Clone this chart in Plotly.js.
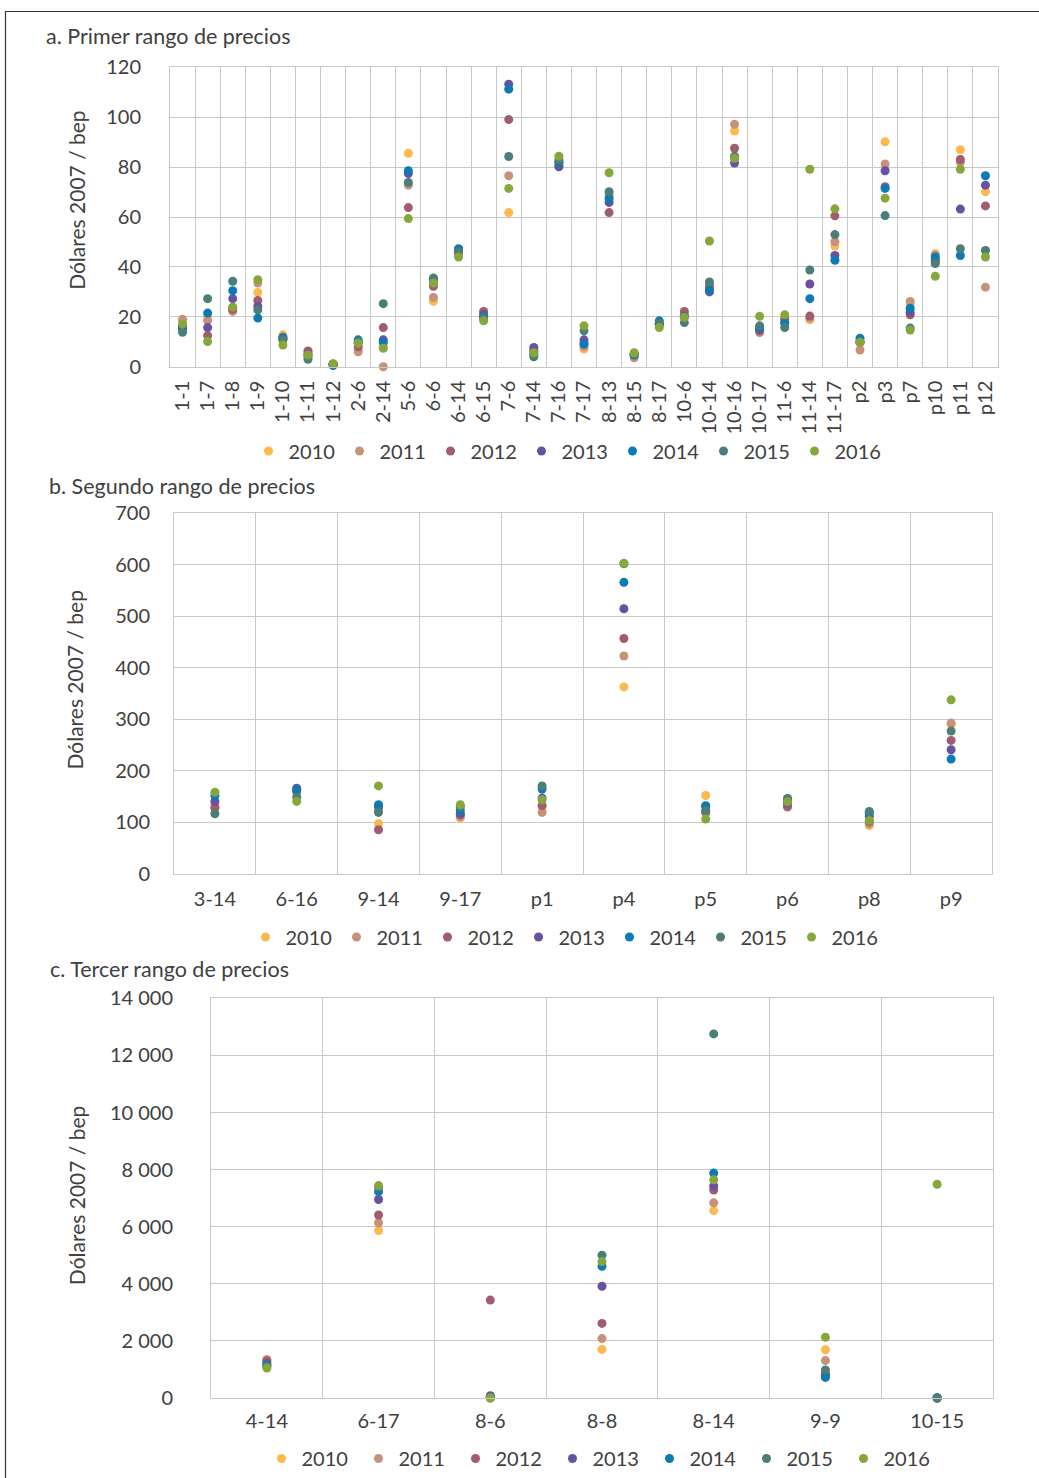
<!DOCTYPE html>
<html>
<head>
<meta charset="utf-8">
<script src="https://cdn.plot.ly/plotly-3.0.1.min.js"></script>
<style>
html,body{margin:0;padding:0;background:#fff;}
#chart{width:1039px;height:1478px;}
</style>
</head>
<body>
<div id="chart"></div>
<script>
// ---------- DATA ----------
const years = ['2010','2011','2012','2013','2014','2015','2016'];
const yearColors = ['#FDB94D','#C8917A','#A15C6E','#6752A1','#0C7BB3','#4B7E78','#87A73C'];

// a. Primer rango de precios
const catsA = ['1-1','1-7','1-8','1-9','1-10','1-11','1-12','2-6','2-14','5-6','6-6','6-14','6-15','7-6','7-14','7-16','7-17','8-13','8-15','8-17','10-6','10-14','10-16','10-17','11-6','11-14','11-17','p2','p3','p7','p10','p11','p12'];
const a2010 = [18,20,24,29.8,12.8,5,1,7,8,85.6,26.2,45,20.6,61.8,6,82,7.1,68,5,17,20.5,32,94.5,14.8,19.5,18.8,48.4,9.4,90.2,25,45.3,87,70.2];
const a2011 = [19,18.5,22.2,33.6,12,6,1,6,0,72.8,27.8,45.5,21.5,76.6,6,82,8,69,3.6,17,21,33,97.2,13.7,18.8,19.5,50.1,6.7,81.3,26.2,44.8,82,31.9];
const a2012 = [16,12.5,23,26.6,11.5,6.3,1,8,15.7,63.8,32.3,46,22.2,99.1,6.5,80.6,9.5,61.8,5,17,22.2,32,87.6,14.4,19.1,20.3,60.5,10,72.2,20.8,43,83.1,64.5];
const a2013 = [16,15.7,27.3,24.2,11,5,1,9.5,10.8,77.5,34,47,20.8,113.3,7.7,80.2,10.8,65.9,5,17,20,30,81.7,15,17.5,33.2,44.6,10,78.6,21.9,42.3,63.2,72.8];
const a2014 = [15,21.5,30.5,19.5,11.7,4,0.5,10.8,9.7,78.6,35,47.3,20.2,111.3,5,82,9,67.5,4.7,18.4,20,30.8,84,15.7,17.5,27.3,42.7,11.4,71.5,23.5,44,44.6,76.6];
const a2015 = [13.8,27.3,34.3,22.8,10.8,3,1,10,25.3,73.9,35.6,46.1,19.5,84.3,4,83,14.4,70.2,5,17.5,17.7,34,84.4,16.4,15.7,38.8,53,10,60.6,15.5,41.4,47.3,46.6];
const a2016 = [17.1,10.1,23.9,34.9,8.7,4.7,1.2,9.4,7.4,59.4,33.6,44,18.4,71.5,5.6,84.4,16.4,77.8,5.6,15.7,19.8,50.4,83.6,20.2,20.8,79.2,63.3,9.8,67.6,14.7,36.3,79.2,44];

// b. Segundo rango de precios
const catsB = ['3-14','6-16','9-14','9-17','p1','p4','p5','p6','p8','p9'];
const b2010 = [135,160,97.5,108.4,131,363,152.4,134,94.2,290];
const b2011 = [128,158,125,111.6,119.5,423,118,129.8,97.5,292.8];
const b2012 = [129,162,85.8,115,133,457,121,131,102,259.2];
const b2013 = [141,166.6,131,116.8,147.3,514.7,131,137.6,111.7,241];
const b2014 = [152,163.4,134.3,123.3,164.8,566,132.4,144,118,223];
const b2015 = [117,149,119.5,131,171,602,122.7,146.6,121.3,277.3];
const b2016 = [158.8,140.8,171,134.3,144,603,106.5,140,104,338];

// c. Tercer rango de precios
const catsC = ['4-14','6-17','8-6','8-8','8-14','9-9','10-15'];
const c2010 = [1250,5868,0,1703,6566,1692,0];
const c2011 = [1350,6140,0,2082,6838,1313,0];
const c2012 = [1300,6412,3431,2614,7287,850,0];
const c2013 = [1200,6956,80,3916,7429,800,0];
const c2014 = [1150,7228,30,4614,7879,722,12];
const c2015 = [1100,7380,20,5004,12753,982,0];
const c2016 = [1053,7441,0,4779,7642,2129,7488];

const panelTitles = ['a. Primer rango de precios','b. Segundo rango de precios','c. Tercer rango de precios'];
const yTitle = 'Dólares 2007 / bep';

// ---------- BUILD ----------
const W = 1039, H = 1478;
const px = x => x / W;
const py = y => 1 - y / H;
const FONT = 'Lato, "Open Sans", sans-serif';
const TXT = '#404040';
const GRID = '#c8c8c8';
const TICK = 20;

const panels = [
  {cats: catsA, vals: [a2010,a2011,a2012,a2013,a2014,a2015,a2016], xa: 'x', ya: 'y', lg: 'legend', size: 9},
  {cats: catsB, vals: [b2010,b2011,b2012,b2013,b2014,b2015,b2016], xa: 'x2', ya: 'y2', lg: 'legend2', size: 9},
  {cats: catsC, vals: [c2010,c2011,c2012,c2013,c2014,c2015,c2016], xa: 'x3', ya: 'y3', lg: 'legend3', size: 9}
];

const traces = [];
panels.forEach(p => {
  years.forEach((yr, i) => {
    traces.push({
      type: 'scatter', mode: 'markers',
      x: p.cats, y: p.vals[i], name: yr,
      xaxis: p.xa, yaxis: p.ya, legend: p.lg,
      cliponaxis: false,
      marker: {color: yearColors[i], size: p.size, line: {width: 0}},
      hoverinfo: 'x+y+name'
    });
  });
});

function xAxis(domain, cats, angle, standoff, anchor) {
  return {
    domain: domain, anchor: anchor, type: 'category',
    categoryorder: 'array', categoryarray: cats,
    range: [-0.5, cats.length - 0.5], dtick: 1,
    tickson: 'boundaries', showgrid: true, gridcolor: GRID, gridwidth: 1,
    showline: true, mirror: true, linecolor: GRID, linewidth: 1,
    ticks: '', tickangle: angle, ticklabelstandoff: standoff,
    tickfont: {family: FONT, size: TICK, color: TXT},
    zeroline: false, fixedrange: true
  };
}
function yAxis(domain, range, dtick, standoff, anchor) {
  return {
    domain: domain, anchor: anchor, range: range, dtick: dtick, tick0: 0,
    showgrid: true, gridcolor: GRID, gridwidth: 1,
    showline: true, mirror: true, linecolor: GRID, linewidth: 1,
    ticks: '', ticklabelstandoff: standoff, tickformat: ',d',
    tickfont: {family: FONT, size: TICK, color: TXT},
    zeroline: false, fixedrange: true
  };
}
function legend(xc, yc, ew) {
  return {
    orientation: 'h', x: px(xc), y: py(yc), xanchor: 'center', yanchor: 'middle',
    xref: 'paper', yref: 'paper', entrywidth: ew, entrywidthmode: 'pixels',
    font: {family: FONT, size: TICK, color: TXT}, bgcolor: 'rgba(0,0,0,0)',
    itemclick: false, itemdoubleclick: false, tracegroupgap: 0
  };
}

const layout = {
  width: W, height: H,
  margin: {l: 0, r: 0, t: 0, b: 0, pad: 0},
  paper_bgcolor: '#ffffff', plot_bgcolor: '#ffffff',
  separators: ', ',
  showlegend: true,
  font: {family: FONT, size: TICK, color: TXT},
  xaxis:  xAxis([px(170), px(998)], catsA, -90, 5, 'y'),
  yaxis:  yAxis([py(367), py(67.5)], [0, 120], 20, 24, 'x'),
  xaxis2: xAxis([px(174), px(992)], catsB, 0, 7, 'y2'),
  yaxis2: yAxis([py(874.6), py(513.6)], [0, 700], 100, 19, 'x2'),
  xaxis3: xAxis([px(211), px(993)], catsC, 0, 5, 'y3'),
  yaxis3: yAxis([py(1399), py(999)], [0, 14000], 2000, 33, 'x3'),
  legend:  legend(567, 451, 46),
  legend2: legend(564, 937, 46),
  legend3: legend(601, 1459, 52),
  annotations: [
    {text: panelTitles[0], x: px(44), y: py(36), xanchor: 'left', yanchor: 'middle', size: 21.5},
    {text: panelTitles[1], x: px(47), y: py(486), xanchor: 'left', yanchor: 'middle', size: 21.5},
    {text: panelTitles[2], x: px(48), y: py(970), xanchor: 'left', yanchor: 'middle', size: 21.5},
    {text: yTitle, x: px(77), y: py(201), textangle: -90, xanchor: 'center', yanchor: 'middle', size: 21},
    {text: yTitle, x: px(75), y: py(681), textangle: -90, xanchor: 'center', yanchor: 'middle', size: 21},
    {text: yTitle, x: px(76), y: py(1197), textangle: -90, xanchor: 'center', yanchor: 'middle', size: 21}
  ].map(a => {
    const s = a.size; delete a.size;
    return Object.assign({xref: 'paper', yref: 'paper', showarrow: false,
      font: {family: FONT, size: s, color: TXT}}, a);
  }),
  shapes: [
    {type: 'rect', xref: 'paper', yref: 'paper', x0: px(5.5), x1: px(1060), y0: py(11.5), y1: py(1500),
     line: {color: '#333333', width: 1.2}, fillcolor: 'rgba(0,0,0,0)', layer: 'above'}
  ]
};

Plotly.newPlot('chart', traces, layout, {displayModeBar: false, staticPlot: true});
</script>
</body>
</html>
